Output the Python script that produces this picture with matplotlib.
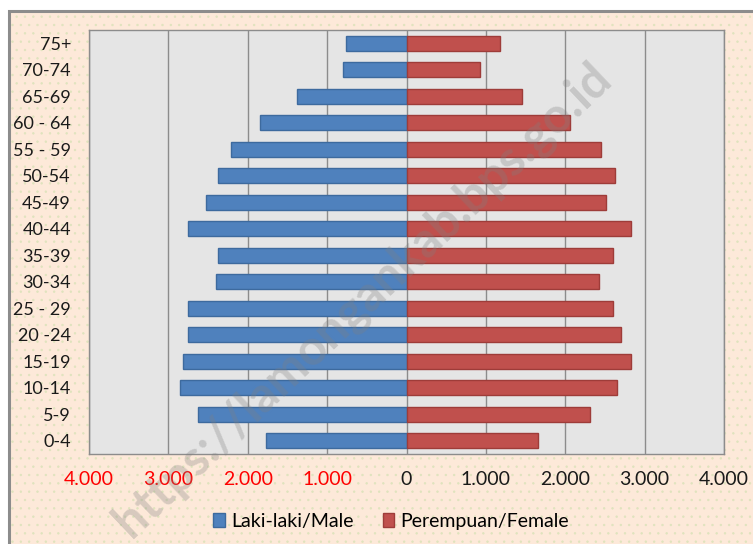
import matplotlib
matplotlib.use("Agg")
import matplotlib.pyplot as plt
from matplotlib.patches import Rectangle, Patch
from matplotlib.ticker import FuncFormatter

plt.rcParams['font.family'] = ['Lato', 'DejaVu Sans']
plt.rcParams['hatch.linewidth'] = 0.5

age_groups = ['0-4', '5-9', '10-14', '15-19', '20 -24', '25 - 29', '30-34', '35-39',
              '40-44', '45-49', '50-54', '55 - 59', '60 - 64', '65-69', '70-74', '75+']
male = [1765, 2623, 2850, 2812, 2749, 2749, 2396, 2371,
        2749, 2522, 2371, 2207, 1841, 1375, 805, 767]
female = [1660, 2308, 2652, 2829, 2703, 2602, 2425, 2602,
          2829, 2509, 2623, 2446, 2055, 1459, 929, 1173]
xticks = [-4000, -3000, -2000, -1000, 0, 1000, 2000, 3000, 4000]
legend_labels = ['Laki-laki/Male', 'Perempuan/Female']

W, H = 753, 544
fig = plt.figure(figsize=(W / 100, H / 100), dpi=100)
fig.patch.set_facecolor('white')

# chart area background (dotted) and frame
bg = Rectangle((9 / W, 0), 1, (H - 11) / H, transform=fig.transFigure,
               facecolor='#fde9d9', edgecolor='#dfe3bd', linewidth=0,
               hatch='..', zorder=0)
fig.patches.append(bg)
frame = Rectangle((9 / W, -0.01), 1, (H - 11) / H + 0.01, transform=fig.transFigure,
                  facecolor='none', edgecolor='#8c8c8c', linewidth=2.2, zorder=0.5)
fig.patches.append(frame)

ax = fig.add_axes([89 / W, (H - 454) / H, 635 / W, 424 / H])
ax.set_zorder(2)
ax.set_facecolor('#e5e5e5')

y = list(range(len(age_groups)))
ax.barh(y, [-m for m in male], height=0.57, color='#4f81bd', edgecolor='#3d6a9e',
        linewidth=1.0, zorder=3)
ax.barh(y, female, height=0.57, color='#c0504d', edgecolor='#9e3c39',
        linewidth=1.0, zorder=3)

ax.set_xlim(-4000, 4000)
ax.set_ylim(-0.5, len(age_groups) - 0.5)
ax.set_xticks(xticks)
ax.xaxis.set_major_formatter(FuncFormatter(lambda v, p: f"{abs(int(v)):,}".replace(',', '.')))
ax.set_yticks(y)
ax.set_yticklabels(age_groups)
ax.tick_params(axis='both', length=0, colors='#1a1a1a')
ax.tick_params(axis='x', pad=12, labelsize=14)
ax.tick_params(axis='y', pad=13, labelsize=13)
for lbl, v in zip(ax.get_xticklabels(), xticks):
    if v < 0:
        lbl.set_color('#ff0000')

ax.grid(axis='x', color='#8c8c8c', linewidth=1.0, zorder=1)
ax.set_axisbelow(True)
for s in ax.spines.values():
    s.set_color('#8c8c8c')
    s.set_linewidth(1.0)

handles = [Patch(facecolor='#4f81bd', edgecolor='#3d6a9e'),
           Patch(facecolor='#c0504d', edgecolor='#9e3c39')]
leg = fig.legend(handles, legend_labels, loc='center', bbox_to_anchor=(391 / W, 1 - 521 / H),
                 ncol=2, frameon=False, fontsize=14, handlelength=0.6, handleheight=0.7,
                 handletextpad=0.3, columnspacing=1.5)
leg.set_zorder(3)

wm = fig.text(362 / W, 1 - 300 / H, 'https://lamongankab.bps.go.id', rotation=43.5,
              ha='center', va='center', fontsize=35, fontweight='bold',
              color='#808080', alpha=0.3, zorder=10)

fig.savefig('out.png', dpi=100)
